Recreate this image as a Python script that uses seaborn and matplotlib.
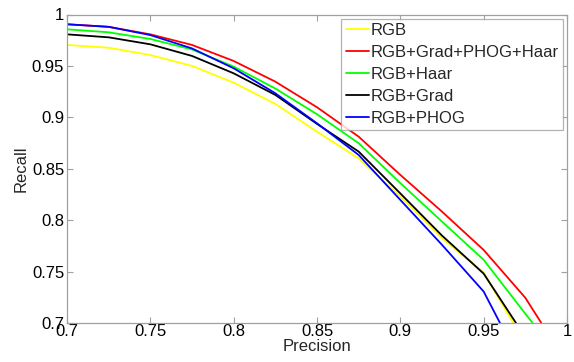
import matplotlib
matplotlib.use("Agg")
import matplotlib.pyplot as plt
import seaborn as sns
import pandas as pd

# precision / recall curves
methods = ["RGB", "RGB+Grad+PHOG+Haar", "RGB+Haar", "RGB+Grad", "RGB+PHOG"]
colors = ["#ffff00", "#ff0000", "#00ff00", "#000000", "#0000ff"]

prec_grid = [0.7, 0.725, 0.75, 0.775, 0.8, 0.825, 0.85, 0.875, 0.9, 0.925, 0.95]

rgb_recall = [0.9704, 0.9677, 0.9606, 0.950, 0.9337, 0.913, 0.886, 0.860, 0.823, 0.7825, 0.749]
all_recall = [0.9905, 0.988, 0.9807, 0.9704, 0.9548, 0.9347, 0.9098, 0.8812, 0.844, 0.8083, 0.771]
haar_recall = [0.9856, 0.9827, 0.9762, 0.966, 0.9493, 0.928, 0.903, 0.8748, 0.836, 0.7986, 0.7614]
grad_recall = [0.9807, 0.9778, 0.971, 0.9597, 0.9428, 0.9218, 0.8936, 0.8667, 0.826, 0.785, 0.748]
phog_recall = [0.9905, 0.988, 0.980, 0.967, 0.9477, 0.9234, 0.8942, 0.8634, 0.8197, 0.776, 0.7306]

# tail of each curve: extra points down to the bottom of the axes
rgb_tail = ([0.9678], [0.70])
all_tail = ([0.975, 0.9846], [0.7245, 0.70])
haar_tail = ([0.975, 0.9794], [0.709, 0.70])
grad_tail = ([0.9694], [0.70])
phog_tail = ([0.9598], [0.70])

x_ticks = [0.7, 0.75, 0.8, 0.85, 0.9, 0.95, 1.0]
x_labels = ["0.7", "0.75", "0.8", "0.85", "0.9", "0.95", "1"]
y_ticks = [0.7, 0.75, 0.8, 0.85, 0.9, 0.95, 1.0]
y_labels = ["0.7", "0.75", "0.8", "0.85", "0.9", "0.95", "1"]

rows = []
for name, rec, tail in zip(
    methods,
    [rgb_recall, all_recall, haar_recall, grad_recall, phog_recall],
    [rgb_tail, all_tail, haar_tail, grad_tail, phog_tail],
):
    xs = prec_grid + tail[0]
    ys = rec + tail[1]
    for i, (p, r) in enumerate(zip(xs, ys)):
        rows.append({"Precision": p, "Recall": r, "method": name, "order": i})
df = pd.DataFrame(rows)

sns.set_theme(style="white")
plt.rcParams["font.family"] = ["Liberation Sans", "DejaVu Sans"]

fig = plt.figure(figsize=(5.74, 3.62), dpi=100)
ax = fig.add_axes([67 / 574, 1 - 323 / 362, 500 / 574, 308.5 / 362])

sns.lineplot(
    data=df, x="Precision", y="Recall", hue="method", hue_order=methods,
    palette=colors, estimator=None, sort=False, units="method",
    linewidth=1.3, ax=ax,
)

ax.set_xlim(0.7, 1.0)
ax.set_ylim(0.7, 1.0)
ax.set_xticks(x_ticks)
ax.set_xticklabels(x_labels)
ax.set_yticks(y_ticks)
ax.set_yticklabels(y_labels)
ax.tick_params(direction="in", length=4, width=0.8, color="#a0a0a0",
               labelsize=12, labelcolor="black", pad=1,
               top=True, right=True, bottom=True, left=True)
ax.tick_params(axis="y", pad=2)
for s in ax.spines.values():
    s.set_color("#a0a0a0")
    s.set_linewidth(0.9)

ax.set_xlabel("Precision", fontsize=12, labelpad=0)
ax.set_ylabel("Recall", fontsize=12, labelpad=2)

leg = ax.legend(loc="upper right", fontsize=12, frameon=True, fancybox=False,
                handlelength=1.4, handletextpad=0.1, borderpad=0.25,
                labelspacing=0.42, borderaxespad=0.25)
leg.get_frame().set_edgecolor("#a0a0a0")
leg.get_frame().set_linewidth(0.9)

fig.savefig("out.png", dpi=100)
